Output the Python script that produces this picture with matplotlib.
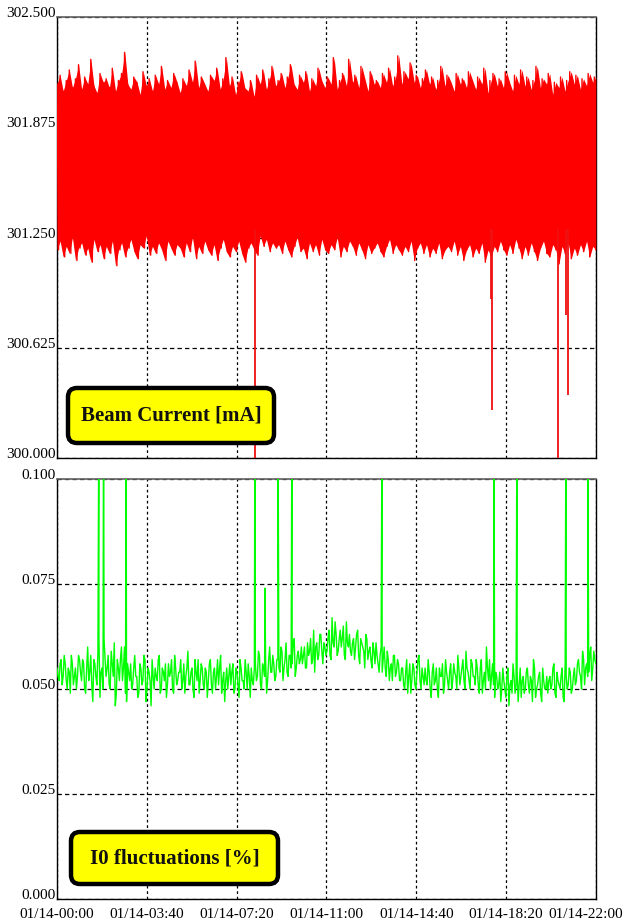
import numpy as np
import matplotlib
matplotlib.use("Agg")
import matplotlib.pyplot as plt
import matplotlib.patches as mpatches
from matplotlib.transforms import IdentityTransform, ScaledTranslation

plt.rcParams['font.family'] = ['Liberation Serif', 'DejaVu Serif']

# x axis: hours of 01/14
x_labels = ["01/14-00:00", "01/14-03:40", "01/14-07:20", "01/14-11:00",
            "01/14-14:40", "01/14-18:20", "01/14-22:00"]

# beam current [mA]: upper / lower envelope of the noise band, 8 readings per hour
beam_hi = [
    302.12, 302.17, 302.08, 302.14, 302.20, 302.10, 302.15, 302.23,
    302.09, 302.16, 302.12, 302.26, 302.11, 302.07, 302.18, 302.13,
    302.15, 302.10, 302.21, 302.08, 302.14, 302.18, 302.30, 302.12,
    302.09, 302.16, 302.13, 302.06, 302.19, 302.11, 302.15, 302.08,
    302.17, 302.12, 302.22, 302.09, 302.14, 302.10, 302.18, 302.13,
    302.07, 302.15, 302.11, 302.20, 302.13, 302.25, 302.10, 302.16,
    302.12, 302.08, 302.17, 302.14, 302.21, 302.09, 302.15, 302.27,
    302.11, 302.16, 302.06, 302.13, 302.19, 302.10, 302.08, 302.14,
    302.05, 302.17, 302.12, 302.20, 302.09, 302.15, 302.22, 302.11,
    302.14, 302.18, 302.10, 302.16, 302.23, 302.12, 302.09, 302.17,
    302.13, 302.19, 302.08, 302.15, 302.11, 302.21, 302.14, 302.10,
    302.16, 302.12, 302.27, 302.09, 302.14, 302.18, 302.11, 302.26,
    302.13, 302.17, 302.10, 302.22, 302.15, 302.08, 302.19, 302.12,
    302.14, 302.10, 302.18, 302.13, 302.21, 302.11, 302.16, 302.28,
    302.12, 302.19, 302.15, 302.24, 302.13, 302.17, 302.10, 302.15,
    302.20, 302.12, 302.16, 302.09, 302.14, 302.22, 302.11, 302.17,
    302.13, 302.08, 302.18, 302.12, 302.15, 302.10, 302.19, 302.14,
    302.09, 302.16, 302.12, 302.21, 302.07, 302.14, 302.18, 302.11,
    302.15, 302.10, 302.19, 302.13, 302.08, 302.17, 302.12, 302.20,
    302.11, 302.16, 302.09, 302.14, 302.22, 302.10, 302.15, 302.12,
    302.18, 302.06, 302.13, 302.10, 302.16, 302.08, 302.14, 302.19,
    302.12, 302.17, 302.09, 302.15, 302.11, 302.18, 302.13, 302.16,
]
beam_lo = [
    301.18, 301.23, 301.14, 301.20, 301.16, 301.25, 301.12, 301.19,
    301.22, 301.15, 301.19, 301.11, 301.24, 301.17, 301.21, 301.13,
    301.20, 301.16, 301.23, 301.09, 301.18, 301.22, 301.14, 301.19,
    301.24, 301.17, 301.13, 301.21, 301.19, 301.26, 301.15, 301.20,
    301.16, 301.22, 301.18, 301.12, 301.23, 301.19, 301.15, 301.21,
    301.19, 301.14, 301.22, 301.17, 301.25, 301.13, 301.20, 301.16,
    301.23, 301.18, 301.15, 301.21, 301.12, 301.19, 301.24, 301.17,
    301.14, 301.20, 301.17, 301.23, 301.16, 301.11, 301.19, 301.22,
    301.18, 301.15, 301.26, 301.20, 301.24, 301.17, 301.22, 301.19,
    301.21, 301.16, 301.23, 301.18, 301.14, 301.20, 301.25, 301.17,
    301.19, 301.13, 301.22, 301.17, 301.21, 301.15, 301.24, 301.18,
    301.16, 301.21, 301.18, 301.25, 301.14, 301.20, 301.17, 301.23,
    301.20, 301.15, 301.22, 301.18, 301.13, 301.21, 301.16, 301.19,
    301.22, 301.17, 301.14, 301.20, 301.24, 301.16, 301.21, 301.18,
    301.15, 301.20, 301.17, 301.23, 301.12, 301.19, 301.22, 301.16,
    301.21, 301.14, 301.19, 301.16, 301.22, 301.13, 301.18, 301.20,
    301.17, 301.23, 301.15, 301.20, 301.12, 301.18, 301.21, 301.14,
    301.19, 301.16, 301.22, 301.11, 301.18, 301.14, 301.20, 301.17,
    301.23, 301.18, 301.15, 301.21, 301.16, 301.24, 301.19, 301.13,
    301.20, 301.15, 301.22, 301.17, 301.12, 301.19, 301.23, 301.16,
    301.14, 301.21, 301.18, 301.10, 301.20, 301.16, 301.22, 301.13,
    301.19, 301.15, 301.21, 301.17, 301.23, 301.14, 301.20, 301.18,
]
# beam drops: time [h], lowest current [mA]
dip_t = [8.08, 17.70, 17.74, 20.45, 20.78, 20.86]
dip_min = [299.90, 300.90, 300.27, 299.90, 300.81, 300.36]

# I0 fluctuations [0.001 %]: readings on the full 5-minute marks ...
io_milli_a = [
    55, 52, 57, 53, 56, 50, 54, 58, 51, 55, 53, 57,
    52, 56, 49, 60, 54, 51, 57, 53, 59, 48, 55, 62,
    53, 58, 50, 56, 61, 49, 55, 57, 52, 60, 47, 54,
    56, 51, 58, 53, 49, 55, 52, 57, 50, 54, 46, 53,
    55, 52, 58, 50, 54, 56, 51, 53, 57, 49, 55, 52,
    54, 50, 56, 53, 59, 51, 55, 48, 54, 57, 52, 55,
    50, 54, 52, 57, 49, 55, 53, 51, 58, 52, 47, 55,
    53, 51, 56, 50, 54, 48, 55, 52, 57, 50, 53, 55,
    51, 56, 53, 58, 50, 55, 57, 52, 60, 54, 56, 53,
    57, 54, 59, 55, 61, 53, 58, 56, 62, 55, 59, 57,
    56, 60, 55, 58, 62, 57, 54, 61, 58, 63, 56, 60,
    59, 64, 57, 61, 66, 58, 62, 60, 65, 57, 61, 63,
    58, 62, 60, 64, 56, 61, 59, 63, 57, 60, 55, 59,
    61, 56, 58, 54, 60, 53, 57, 55, 52, 58, 54, 56,
    52, 55, 50, 57, 53, 49, 56, 51, 54, 58, 50, 53,
    55, 51, 54, 48, 56, 52, 50, 55, 53, 49, 57, 52,
    54, 50, 56, 53, 58, 51, 55, 52, 59, 54, 50, 56,
    53, 57, 51, 55, 49, 54, 60, 52, 50, 56, 48, 53,
    51, 47, 55, 50, 53, 46, 52, 56, 49, 54, 51, 48,
    53, 50, 55, 49, 52, 57, 48, 51, 54, 47, 52, 50,
    49, 53, 51, 56, 48, 52, 50, 55, 47, 53, 51, 54,
    50, 55, 52, 57, 53, 59, 51, 56, 54, 60, 55, 57,
]
# ... and the readings 2.5 minutes later
io_milli_b = [
    53, 56, 51, 58, 52, 55, 49, 56, 53, 50, 58, 54,
    57, 50, 55, 52, 58, 47, 56, 51, 62, 54, 50, 57,
    55, 51, 59, 53, 46, 57, 52, 60, 55, 49, 56, 52,
    50, 55, 53, 48, 56, 51, 58, 47, 55, 52, 57, 50,
    53, 57, 49, 55, 52, 48, 56, 54, 50, 58, 51, 54,
    57, 52, 49, 55, 51, 54, 50, 57, 52, 49, 56, 51,
    55, 48, 56, 51, 54, 50, 57, 55, 49, 54, 52, 50,
    56, 54, 49, 55, 51, 57, 52, 50, 54, 56, 48, 52,
    55, 52, 59, 51, 56, 53, 49, 57, 54, 58, 52, 57,
    55, 60, 52, 57, 54, 58, 55, 61, 53, 58, 56, 60,
    58, 55, 61, 59, 56, 64, 60, 57, 63, 59, 61, 58,
    62, 58, 67, 60, 63, 59, 64, 62, 58, 66, 60, 59,
    61, 57, 63, 58, 62, 60, 55, 62, 59, 57, 61, 56,
    58, 54, 60, 57, 55, 59, 52, 56, 58, 53, 57, 52,
    55, 51, 54, 49, 56, 52, 55, 50, 57, 52, 55, 51,
    52, 57, 50, 54, 51, 55, 48, 53, 56, 51, 54, 50,
    56, 52, 54, 50, 55, 53, 57, 50, 55, 52, 57, 53,
    51, 55, 49, 57, 52, 50, 55, 57, 53, 51, 54, 50,
    54, 50, 52, 48, 55, 51, 49, 53, 51, 47, 55, 52,
    49, 54, 51, 53, 47, 55, 50, 53, 49, 55, 50, 53,
    52, 50, 55, 49, 54, 51, 53, 48, 56, 50, 55, 49,
    53, 51, 56, 54, 50, 57, 55, 53, 58, 52, 59, 56,
]
# I0 spikes: time [h], value [%]
spike_t = [1.71, 1.90, 2.82, 8.08, 8.49, 9.02, 9.59, 13.27, 17.84, 18.78, 20.78, 21.67]
spike_v = [0.12, 0.12, 0.12, 0.12, 0.074, 0.12, 0.12, 0.12, 0.12, 0.12, 0.12, 0.12]

tick_hours = [int(s[-5:-3]) + int(s[-2:]) / 60 for s in x_labels]

fig = plt.figure(figsize=(6.28, 9.21), dpi=100)
ax1 = fig.add_axes([0.0908, 0.5027, 0.858, 0.4788])
ax2 = fig.add_axes([0.0908, 0.0239, 0.858, 0.4560])

# top: beam current band -> filled between envelopes + zigzag for the spiky edges
t_pair = np.linspace(0, 22, len(beam_hi))
ax1.fill_between(t_pair, beam_lo, beam_hi, color='#ff0000', lw=0, zorder=3)
zig = np.empty(2 * len(beam_hi))
zig[0::2] = beam_hi
zig[1::2] = beam_lo
t_zig = np.linspace(0, 22, len(zig))
ax1.plot(t_zig, zig, color='#ff0000', lw=1.0, zorder=3)
ax1.vlines(dip_t, dip_min, 301.3, color='#f01010', lw=1.3, zorder=3)

# bottom: I0 fluctuations
io = np.empty(2 * len(io_milli_a))
io[0::2] = io_milli_a
io[1::2] = io_milli_b
io = io / 1000.0
t_io = np.linspace(0, 22, len(io))
t_all = np.concatenate([t_io, spike_t])
v_all = np.concatenate([io, spike_v])
order = np.argsort(t_all)
ax2.plot(t_all[order], v_all[order], color='#00ff00', lw=1.0, zorder=3)

for ax in (ax1, ax2):
    ax.set_xlim(0, 22)
    ax.set_xticks(tick_hours)
    ax.tick_params(length=0, labelsize=11, colors='black')
    ax.tick_params(axis='y', pad=1)
    ax.tick_params(axis='x', pad=6.5)
    ax.xaxis.grid(True, color='black', linestyle=(0, (2.2, 2.2)), lw=0.9, zorder=1)
    ax.yaxis.grid(True, color='black', linestyle=(0, (3.5, 2.5)), lw=0.9, zorder=1)
    ax.set_axisbelow(True)
    for s in ('left', 'bottom', 'right'):
        ax.spines[s].set_color('black')
        ax.spines[s].set_linewidth(1.0)
    ax.spines['top'].set_color('#606060')
    ax.spines['top'].set_linewidth(1.2)

ax1.set_ylim(300.0, 302.5)
ax1.set_yticks([300.0, 300.625, 301.25, 301.875, 302.5])
ax1.set_yticklabels([f"{v:.3f}" for v in ax1.get_yticks()])
ax1.set_xticklabels([])

ax2.set_ylim(0.0, 0.1)
ax2.set_yticks([0.0, 0.025, 0.05, 0.075, 0.1])
ax2.set_yticklabels([f"{v:.3f}" for v in ax2.get_yticks()])
ax2.set_xticklabels(x_labels)

for ax in (ax1, ax2):
    for lab in ax.get_yticklabels():
        lab.set_verticalalignment('baseline')

# keep the last date label inside the picture
last = ax2.get_xticklabels()[-1]
last.set_transform(last.get_transform() + ScaledTranslation(-10 / 100, 0, fig.dpi_scale_trans))

# yellow title boxes (pixel coordinates, origin bottom-left)
H = 921
for (x0, y_top, w, h, txt) in [(68, 388, 206, 55, "Beam Current [mA]"),
                               (71, 832, 207, 52, "I0 fluctuations [%]")]:
    box = mpatches.FancyBboxPatch((x0, H - y_top - h), w, h,
                                  boxstyle="round,pad=0,rounding_size=9",
                                  transform=IdentityTransform(),
                                  facecolor='#ffff00', edgecolor='black',
                                  linewidth=3.2, zorder=10)
    fig.add_artist(box)
    fig.text((x0 + w / 2) / 628, (H - y_top - h / 2) / H, txt,
             ha='center', va='center', fontsize=15, fontweight='bold',
             color='#111111', zorder=11)

fig.savefig("out.png", dpi=100)
